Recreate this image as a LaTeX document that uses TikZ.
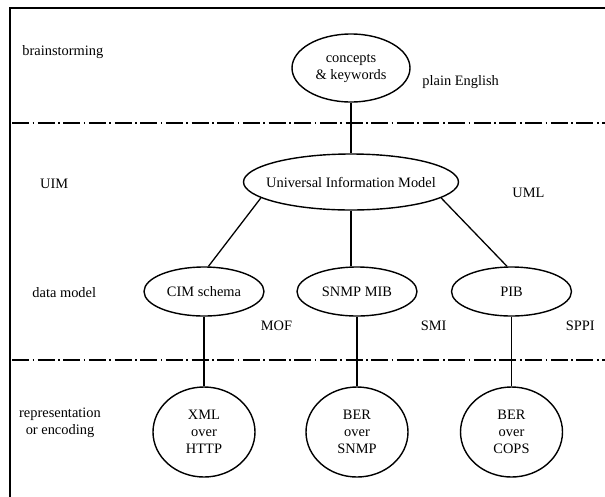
\documentclass[tikz,border=0pt]{standalone}
\usepackage{fontspec}
\setmainfont{Liberation Serif}
\usetikzlibrary{shapes.geometric}
\tikzset{
    every node/.style={font=\fontsize{12.3}{14.5}\selectfont},
    lvl/.style={anchor=west,align=left},
    oval/.style={draw,ellipse,line width=1.2pt,inner sep=0pt,minimum width=3.6cm,minimum height=1.47cm,align=center},
    enc/.style={draw,ellipse,line width=1.2pt,inner sep=0pt,minimum width=3.06cm,minimum height=2.7cm,align=center},
    sep/.style={line width=1.6pt,dash pattern=on 14.5pt off 3pt on 1.4pt off 3pt},
    link/.style={line width=1.1pt}
}
\begin{document}
\begin{tikzpicture}
    \useasboundingbox (0,0) rectangle (18.15,-14.88);
    \fill[white] (0,0) rectangle (18.15,-14.88);
    \draw[line width=2.4pt] (0.30,-14.95) |- (18.25,-0.24);
	\foreach \y in {-3.68,-10.80}
    {
    \draw[sep] (0.36,\y) -- (18.15,\y);
    }
    \node[lvl] (brain) at (0.55,-1.55) {brainstorming};
    \node[lvl] (uimlbl) at (1.08,-5.52) {UIM};
    \node[lvl] (dmlbl) at (0.85,-8.79) {data model};
    \node[align=center] (replbl) at (1.80,-12.69) {representation\\or encoding};
    \node[oval,minimum width=3.54cm,minimum height=2.04cm] (concepts) at (10.53,-2.04) {concepts\\\& keywords};
    \node[lvl] (english) at (12.55,-2.45) {plain English};
    \node[oval,inner xsep=-0.4cm,minimum width=6.45cm,minimum height=1.68cm] (uim) at (10.53,-5.46) {Universal Information Model};
    \node[lvl] (uml) at (15.25,-5.80) {UML};
    \node[oval] (cim) at (6.12,-8.745) {CIM schema};
    \node[oval] (snmp) at (10.71,-8.745) {SNMP MIB};
    \node[oval] (pib) at (15.345,-8.745) {PIB};
    \node[lvl] (mof) at (7.70,-9.76) {MOF};
    \node[lvl] (smi) at (12.50,-9.76) {SMI};
    \node[lvl] (sppi) at (16.85,-9.76) {SPPI};
    \node[enc] (xml) at (6.12,-12.96) {XML\\over\\HTTP};
    \node[enc] (bersnmp) at (10.71,-12.96) {BER\\over\\SNMP};
    \node[enc] (bercops) at (15.345,-12.96) {BER\\over\\COPS};
    \draw[link] (concepts) -- (uim);
    \draw[link] (uim.190) -- (cim.80);
    \draw[link] (uim.south) -- (uim.south |- snmp.north);
    \draw[link] (uim.-10) -- (pib.100);
    \draw[link] (cim) -- (xml);
    \draw[link] (snmp) -- (bersnmp);
    \draw[link] (pib) -- (bercops);
	\end{tikzpicture}
\end{document}
